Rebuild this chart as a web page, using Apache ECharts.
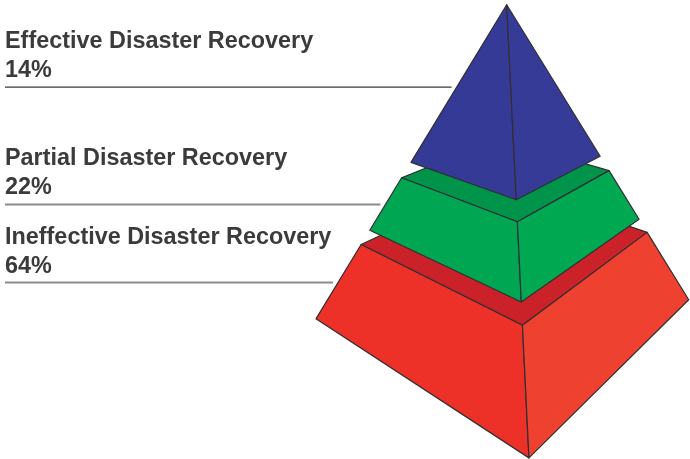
<!DOCTYPE html>
<html>
<head>
<meta charset="utf-8">
<script src="https://cdn.jsdelivr.net/npm/echarts@6/dist/echarts.min.js"></script>
<style>
html,body{margin:0;padding:0;background:#ffffff;}
#chart{width:690px;height:459px;}
</style>
</head>
<body>
<div id="chart"></div>
<script>
// ---- data ----
const categories = ['Effective Disaster Recovery', 'Partial Disaster Recovery', 'Ineffective Disaster Recovery'];
const values = [14, 22, 64];

// ---- layout / style (not data) ----
// vertical extent of each layer as a fraction of the pyramid height (top layer first)
const layerBands = [[0.547, 1], [0.3235, 0.498], [0, 0.274]];
const faceColors = [
  { left: '#353a96', right: '#363b98', top: '#2c3183' },
  { left: '#00a651', right: '#00a852', top: '#00944a' },
  { left: '#ee3128', right: '#ef4130', top: '#cb2229' }
];
const leaderStyles = [
  { stroke: '#3a3a3c', lineWidth: 1.3 },
  { stroke: '#8a8b8e', lineWidth: 2 },
  { stroke: '#8a8b8e', lineWidth: 2 }
];
const edgeColor = '#2f2f33';
const textColor = '#3b3b3d';
const labelFont = 'bold 23.4px "Liberation Sans", Arial, Helvetica, sans-serif';
const labelX = 5;

// 3D pyramid (base half-diagonal = 1) and perspective camera
const pyramidHeight = 1.5732;
const camera = { yawDeg: 5, pitchDeg: 25, height: 1.9717, distance: 2.8, focal: 630.3, centerX: 506.7, centerY: 196.2 };
const W = 690, H = 459;

const yaw = camera.yawDeg * Math.PI / 180;
const pitch = camera.pitchDeg * Math.PI / 180;

function project(X, Y, Z) {
  const dy = Y - camera.height, dz = Z - camera.distance;
  const depth = -dy * Math.sin(pitch) - dz * Math.cos(pitch);
  const up = dy * Math.cos(pitch) - dz * Math.sin(pitch);
  return [X / depth, up / depth];
}
function corner(name, frac) {
  const r = 1 - frac, y = frac * pyramidHeight;
  const s = Math.sin(yaw), c = Math.cos(yaw);
  if (name === 'front') return [r * s, y, r * c];
  if (name === 'left') return [-r * c, y, r * s];
  if (name === 'right') return [r * c, y, -r * s];
  return [-r * s, y, -r * c];
}

const drawOrder = [2, 1, 0]; // bottom layer first so upper layers overlap it

function renderItem(params, api) {
  const i = api.value(0);
  const band = layerBands[i];
  const col = faceColors[i];
  const pt = (name, frac) => api.coord(project.apply(null, corner(name, frac)));
  const L0 = pt('left', band[0]), F0 = pt('front', band[0]), R0 = pt('right', band[0]);
  const L1 = pt('left', band[1]), F1 = pt('front', band[1]), R1 = pt('right', band[1]), B1 = pt('back', band[1]);
  const edge = { stroke: edgeColor, lineWidth: 1.2, lineJoin: 'round' };
  const children = [];
  if (band[1] < 1) {
    children.push({ type: 'polygon', shape: { points: [L1, F1, R1, B1] }, style: Object.assign({ fill: col.top }, edge) });
  }
  children.push({ type: 'polygon', shape: { points: [L0, F0, F1, L1] }, style: Object.assign({ fill: col.left }, edge) });
  children.push({ type: 'polygon', shape: { points: [F0, R0, R1, F1] }, style: Object.assign({ fill: col.right }, edge) });

  // leader line and label
  const mid = pt('left', (band[0] + band[1]) / 2);
  const ly = mid[1];
  children.push({ type: 'line', shape: { x1: labelX, y1: ly, x2: mid[0] - 5, y2: ly }, style: leaderStyles[i] });
  children.push({ type: 'text', x: labelX, y: ly - 45.5, style: { text: categories[i], font: labelFont, fill: textColor, align: 'left', verticalAlign: 'middle' } });
  children.push({ type: 'text', x: labelX, y: ly - 16.5, style: { text: api.value(1) + '%', font: labelFont, fill: textColor, align: 'left', verticalAlign: 'middle' } });
  return { type: 'group', children: children };
}

const chart = echarts.init(document.getElementById('chart'), null, { renderer: 'canvas' });
chart.setOption({
  animation: false,
  backgroundColor: '#ffffff',
  grid: { left: 0, right: 0, top: 0, bottom: 0 },
  xAxis: { type: 'value', show: false, min: -camera.centerX / camera.focal, max: (W - camera.centerX) / camera.focal },
  yAxis: { type: 'value', show: false, min: -(H - camera.centerY) / camera.focal, max: camera.centerY / camera.focal },
  series: [{
    type: 'custom',
    coordinateSystem: 'cartesian2d',
    silent: true,
    clip: false,
    encode: { x: -1, y: -1 },
    data: drawOrder.map(i => [i, values[i]]),
    renderItem: renderItem
  }]
});
</script>
</body>
</html>
